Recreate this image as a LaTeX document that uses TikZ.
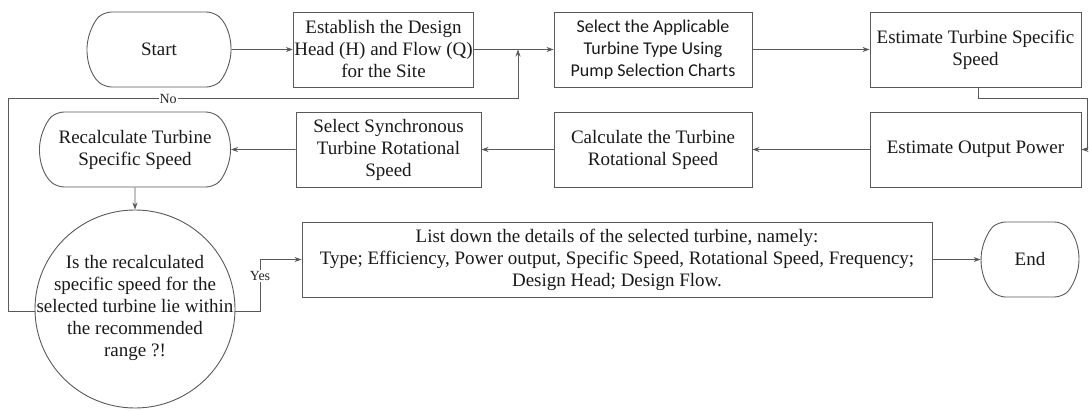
\documentclass[tikz,border=0pt]{standalone}
\usepackage{fontspec}
\setmainfont{Liberation Serif}
\newfontfamily\calibri{Carlito}
\usetikzlibrary{shapes.misc,shapes.geometric,arrows.meta}
\begin{document}
\begin{tikzpicture}[x=1pt,y=-1pt,
 box/.style={draw=black!65, line width=0.9pt, align=center, inner sep=1pt, minimum height=75pt, text=black!90, font=\fontsize{19}{22}\selectfont},
 term/.style={box, rounded rectangle, rounded rectangle arc length=100, rounded corners=7pt},
 dec/.style={draw=black!65, line width=0.9pt, ellipse, inner sep=0pt},
 dtext/.style={align=center, text=black!90, font=\fontsize{19}{22}\selectfont},
 conn/.style={draw=black!65, line width=0.9pt},
 arr/.style={conn, -{Stealth[length=7pt,width=5pt]}},
 lbl/.style={fill=white, inner sep=1pt, text=black!85, font=\fontsize{14}{16}\selectfont}]
\useasboundingbox (0,0) rectangle (1089,411);
% row 1
\node[term, minimum width=146pt] (start) at (159,49.5) {Start};
\node[box, minimum width=175pt] (est) at (383.5,49.5) {Establish the Design\\Head (H) and Flow (Q)\\for the Site};
\node[box, minimum width=198pt, font=\calibri\fontsize{18}{22}\selectfont] (sel) at (653,49.5) {Select the Applicable\\Turbine Type Using\\Pump Selection Charts};
\node[box, minimum width=211pt] (ets) at (975.5,49.5) {Estimate Turbine Specific\\Speed};
% row 2
\node[term, minimum width=193pt] (rec) at (135,149.5) {Recalculate Turbine\\Specific Speed};
\node[box, minimum width=185pt] (ssy) at (388.5,149.5) {Select Synchronous\\Turbine Rotational\\Speed};
\node[box, minimum width=198pt] (calc) at (653,149.5) {Calculate the Turbine\\Rotational Speed};
\node[box, minimum width=211pt] (eop) at (975.5,149.5) {Estimate Output Power};
% decision
\node[dec, minimum width=200pt, minimum height=198pt] (dec) at (135,309) {};
\node[dtext] (dect) at (135,308) {Is the recalculated\\specific speed for the\\selected turbine lie within\\the recommended\\range ?!};
% row 3
\node[box, minimum width=630pt] (list) at (617,259.5) {List down the details of the selected turbine, namely:\\Type; Efficiency, Power output, Specific Speed, Rotational Speed, Frequency;\\Design Head; Design Flow.};
\node[term, minimum width=95pt] (end) at (1030,259.5) {End};
% helper coordinates
\coordinate (jn) at (518,49.5);
\coordinate (nl) at (8,311);
\coordinate (nt) at (8,98.5);
\coordinate (nr) at (518,98.5);
\coordinate (ra) at (1087,98.5);
\coordinate (yb) at (260,311);
\coordinate (yt) at (260,259.5);
% connectors
\draw[arr] (start) -- (est);
\draw[arr] (est) -- (sel);
\draw[arr] (sel) -- (ets);
\draw[arr] ([xshift=2.5pt]ets.south) |- (ra) |- (eop.east);
\draw[arr] (eop) -- (calc);
\draw[arr] (calc) -- (ssy);
\draw[arr] (ssy) -- (rec);
\draw[arr] (rec) -- (dec);
\draw[arr] ([yshift=-2pt]dec.west) -- (nl) -- (nt) -- node[lbl,pos=0.314]{No} (nr) -- (jn);
\draw[arr] ([yshift=-2pt]dec.east) -- (yb) -- node[lbl,pos=0.68]{Yes} (yt) -- (list.west);
\draw[arr] (list) -- (end);
\end{tikzpicture}
\end{document}
